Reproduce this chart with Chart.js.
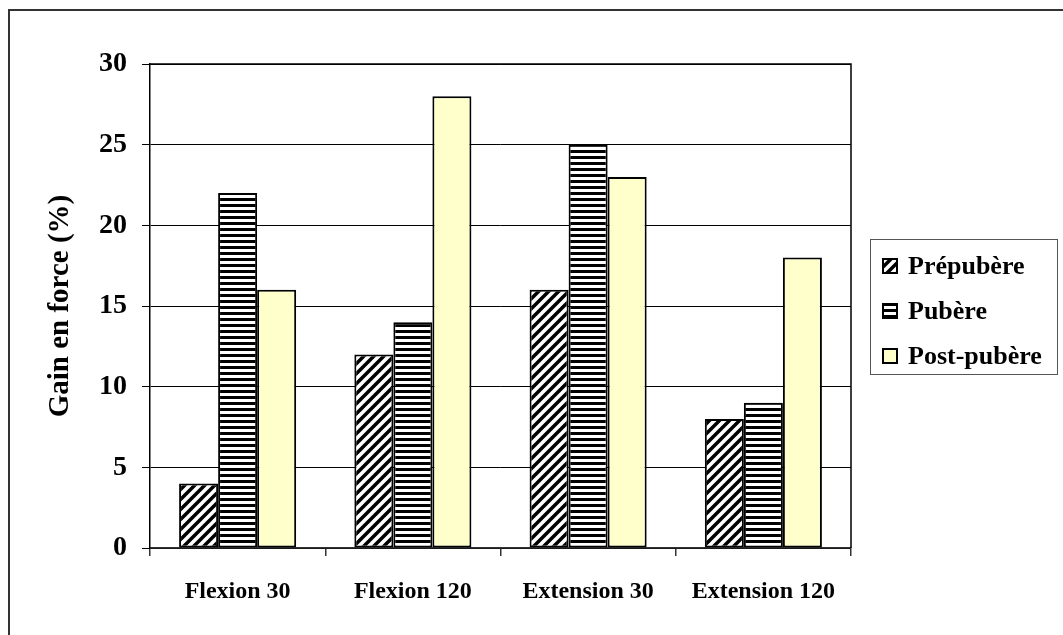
<!DOCTYPE html>
<html lang="fr">
<head>
  <meta charset="UTF-8">
  <title>Gain en force</title>
  <style>
    body {
      margin: 0;
      background: #fff;
      font-family: "Liberation Serif", "DejaVu Serif", serif;
    }
    .wrap {
      position: relative;
      width: 1063px;
      height: 635px;
      overflow: hidden;
    }
    .frame {
      position: absolute;
      left: 8px;
      top: 9px;
      width: 1100px;
      height: 700px;
      border: 2px solid #333;
    }
    canvas#chart {
      position: absolute;
      left: 0;
      top: 0;
    }
    .legend {
      position: absolute;
      left: 870px;
      top: 239px;
      width: 186px;
      height: 134px;
      border: 1px solid #555;
      background: #fff;
    }
    .legend .item {
      position: absolute;
      left: 11px;
      height: 30px;
      display: flex;
      align-items: center;
      font-weight: bold;
      font-size: 26px;
      color: #000;
    }
    .legend canvas {
      margin-right: 10px;
    }
  </style>
</head>
<body>
  <div class="wrap">
    <div class="frame"></div>
    <canvas id="chart" width="1063" height="635"></canvas>
    <div class="legend" id="legend"></div>
  </div>

  <script src="https://cdn.jsdelivr.net/npm/chart.js"></script>
  <script>
    // data
    const categories = ['Flexion 30', 'Flexion 120', 'Extension 30', 'Extension 120'];
    const seriesNames = ['Prépubère', 'Pubère', 'Post-pubère'];
    const prepubere = [4, 12, 16, 8];
    const pubere = [22, 14, 25, 9];
    const postPubere = [16, 28, 23, 18];
    const yTicks = [0, 5, 10, 15, 20, 25, 30];

    const FONT = '"Liberation Serif", "DejaVu Serif", serif';

    // hatch fills
    function diagonalPattern() {
      const s = 10;
      const c = document.createElement('canvas');
      c.width = s; c.height = s;
      const g = c.getContext('2d');
      g.fillStyle = '#fff';
      g.fillRect(0, 0, s, s);
      g.strokeStyle = '#000';
      g.lineWidth = 3.5;
      g.beginPath();
      g.moveTo(0, s); g.lineTo(s, 0);
      g.moveTo(-s / 2, s / 2); g.lineTo(s / 2, -s / 2);
      g.moveTo(s / 2, s * 1.5); g.lineTo(s * 1.5, s / 2);
      g.stroke();
      return g.createPattern(c, 'repeat');
    }

    function stripePattern() {
      const c = document.createElement('canvas');
      c.width = 6; c.height = 6;
      const g = c.getContext('2d');
      g.fillStyle = '#fff';
      g.fillRect(0, 0, 6, 6);
      g.fillStyle = '#000';
      g.fillRect(0, 0, 6, 3);
      return g.createPattern(c, 'repeat');
    }

    const fills = [diagonalPattern(), stripePattern(), '#FFFFCC'];
    const values = [prepubere, pubere, postPubere];

    // black frame on top and right of the plot area
    const plotBorder = {
      id: 'plotBorder',
      afterDraw(chart) {
        const a = chart.chartArea;
        const ctx = chart.ctx;
        ctx.save();
        ctx.strokeStyle = '#000';
        ctx.lineWidth = 1.5;
        ctx.beginPath();
        ctx.moveTo(a.left, a.top);
        ctx.lineTo(a.right, a.top);
        ctx.lineTo(a.right, a.bottom);
        ctx.stroke();
        ctx.restore();
      }
    };

    const ctx = document.getElementById('chart').getContext('2d');
    new Chart(ctx, {
      type: 'bar',
      data: {
        labels: categories,
        datasets: seriesNames.map((name, i) => ({
          label: name,
          data: values[i],
          backgroundColor: fills[i],
          borderColor: '#000',
          borderWidth: 2,
          borderSkipped: false
        }))
      },
      options: {
        responsive: false,
        animation: false,
        events: [],
        layout: { padding: { left: 0, top: 64, right: 212, bottom: 0 } },
        datasets: {
          bar: { barPercentage: 1, categoryPercentage: 0.668 }
        },
        plugins: {
          legend: { display: false },
          tooltip: { enabled: false }
        },
        scales: {
          x: {
            grid: {
              drawOnChartArea: false,
              tickLength: 8,
              color: '#333',
              lineWidth: 1.5
            },
            border: { color: '#333', width: 1.5 },
            ticks: {
              color: '#000',
              padding: 21,
              font: { family: FONT, size: 24, weight: 'bold' }
            },
            afterFit(scale) { scale.height = 87; }
          },
          y: {
            min: 0,
            max: 30,
            afterBuildTicks(scale) {
              scale.ticks = yTicks.map(v => ({ value: v }));
            },
            grid: { color: '#000', lineWidth: 1, tickLength: 8 },
            border: { color: '#000', width: 1.5 },
            ticks: {
              color: '#000',
              padding: 15,
              font: { family: FONT, size: 28, weight: 'bold' }
            },
            title: {
              display: true,
              text: 'Gain en force (%)',
              color: '#000',
              padding: { top: 43, bottom: 0 },
              font: { family: FONT, size: 29, weight: 'bold' }
            },
            afterFit(scale) { scale.width = 150; }
          }
        }
      },
      plugins: [plotBorder]
    });

    // legend box
    const legend = document.getElementById('legend');
    seriesNames.forEach((name, i) => {
      const item = document.createElement('div');
      item.className = 'item';
      item.style.top = (11 + i * 45) + 'px';
      const sw = document.createElement('canvas');
      sw.width = 16; sw.height = 16;
      const g = sw.getContext('2d');
      g.fillStyle = fills[i];
      g.fillRect(0, 0, 16, 16);
      g.strokeStyle = '#000';
      g.lineWidth = 2;
      g.strokeRect(1, 1, 14, 14);
      item.appendChild(sw);
      const label = document.createElement('span');
      label.textContent = name;
      item.appendChild(label);
      legend.appendChild(item);
    });
  </script>
</body>
</html>
